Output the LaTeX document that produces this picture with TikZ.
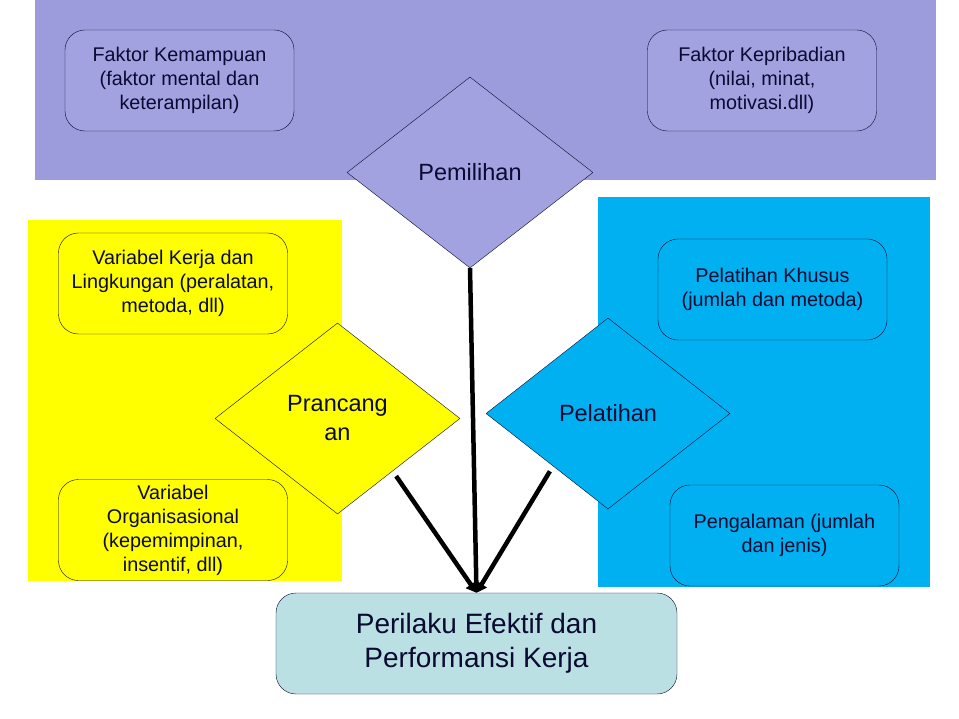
\documentclass[tikz,border=0pt]{standalone}
\usepackage{fontspec}
\setmainfont{Liberation Sans}
\usetikzlibrary{shapes.geometric,arrows.meta,calc}

\definecolor{ungu}{RGB}{156,156,221}
\definecolor{unguMuda}{RGB}{162,162,224}
\definecolor{kuning}{RGB}{255,255,0}
\definecolor{biru}{RGB}{0,176,240}
\definecolor{hasil}{RGB}{187,224,227}
\definecolor{garis}{RGB}{10,10,50}

\tikzset{
  kotak/.style={draw=garis, rounded corners=20pt, minimum width=229pt,
    minimum height=101pt, inner sep=0pt, align=center, text=garis,
    font=\fontsize{19.8}{24}\selectfont},
  belah/.style={diamond, draw=garis, inner sep=0pt, minimum width=246pt,
    minimum height=191pt, align=center, text=garis,
    font=\fontsize{23.5}{29}\selectfont},
  panah/.style={line width=4.5pt, -{Triangle[length=10pt,width=12pt]}}
}

\begin{document}
\begin{tikzpicture}[x=1pt,y=-1pt]
\useasboundingbox (0,0) rectangle (959,719);

% latar
\fill[ungu] (35,0) rectangle (936,180);
\fill[kuning] (28,220) rectangle (342,581);
\fill[biru] (598,197) rectangle (930,587);

\node[kotak, fill=unguMuda] (kemampuan) at (179.5,80.5) {Faktor Kemampuan\\(faktor mental dan\\keterampilan)};
\node[kotak, fill=unguMuda] (kepribadian) at (762,80.5) {Faktor Kepribadian\\(nilai, minat,\\motivasi.dll)};
\node[belah, fill=unguMuda] (pemilihan) at (470,172.5) {Pemilihan};

\node[kotak, fill=kuning] (lingkungan) at (173,283.5) {Variabel Kerja dan\\Lingkungan (peralatan,\\metoda, dll)};
\node[kotak, fill=kuning] (organisasi) at (173,530) {Variabel\\Organisasional\\(kepemimpinan,\\insentif, dll)};
\node[belah, fill=kuning, minimum width=245pt] (prancang) at (337.5,418.5) {Prancang\\an};

\node[kotak, fill=biru] (khusus) at (772.5,289.5) {Pelatihan Khusus\\(jumlah dan metoda)};
\node[kotak, fill=biru] (pengalaman) at (784.5,535.5) {Pengalaman (jumlah\\dan jenis)};
\node[belah, fill=biru, minimum width=244pt] (pelatihan) at (608,413.5) {Pelatihan};

\node[kotak, fill=hasil, minimum width=401pt, font=\fontsize{28}{34}\selectfont] (perilaku) at (476.5,643.5) {Perilaku Efektif dan\\Performansi Kerja\rule[-6pt]{0pt}{6pt}};

\draw[panah] (pemilihan.south) -- (perilaku.north);
\draw[panah, shorten <=6pt] ($(prancang.east)!0.55!(prancang.south)$) -- (perilaku.north);
\draw[panah, shorten <=6pt] ($(pelatihan.west)!0.55!(pelatihan.south)$) -- (perilaku.north);
\end{tikzpicture}
\end{document}
